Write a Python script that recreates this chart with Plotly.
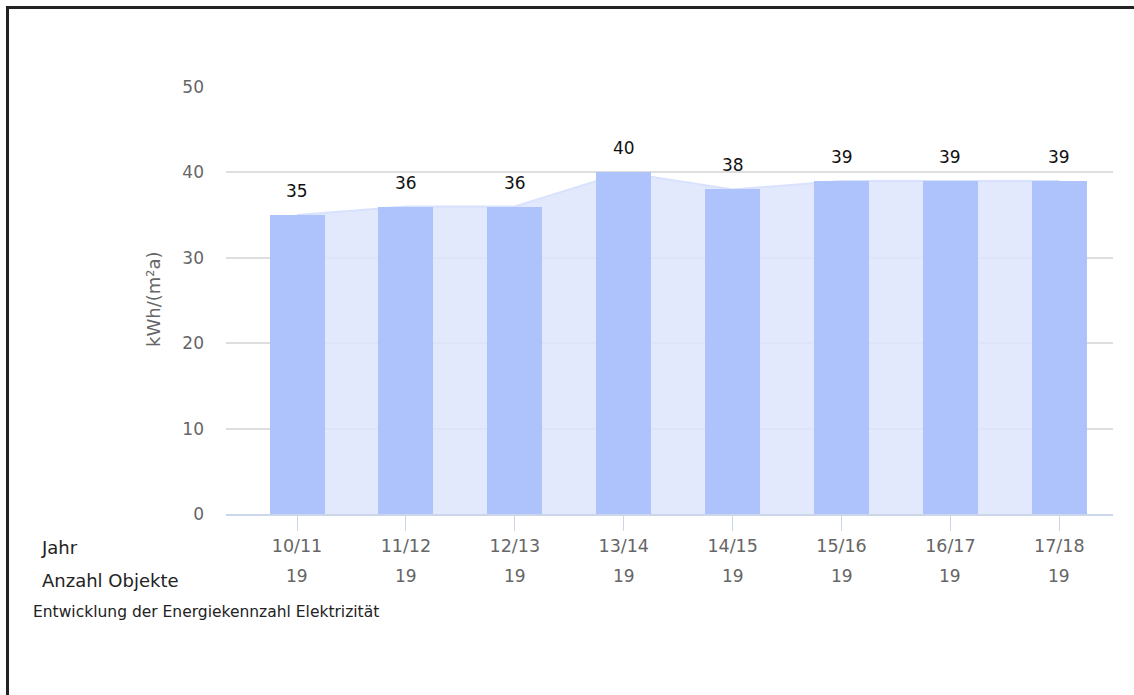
import plotly.graph_objects as go

years = ["10/11", "11/12", "12/13", "13/14", "14/15", "15/16", "16/17", "17/18"]
values = [35, 36, 36, 40, 38, 39, 39, 39]
objects = [19, 19, 19, 19, 19, 19, 19, 19]
y_ticks = [0, 10, 20, 30, 40, 50]

W, H = 1134, 695
L, R, T, B = 226, 21, 87, 181
PW, PH = W - L - R, H - T - B

def xp(px):
    return (px - L) / PW

def yp(py):
    return (H - B - py) / PH

xs = list(range(len(years)))
xr = [-0.652, 7.493]
FONT = "DejaVu Sans"

fig = go.Figure()
fig.add_trace(go.Scatter(
    x=xs, y=values, mode="lines", fill="tozeroy",
    line=dict(color="rgba(215,224,253,0.95)", width=2),
    fillcolor="rgba(222,229,253,0.85)",
    hoverinfo="skip", showlegend=False, xaxis="x", yaxis="y",
))
fig.add_trace(go.Bar(
    x=xs, y=values, width=0.505, marker=dict(color="#aec3fc", line=dict(width=0)),
    showlegend=False, xaxis="x2", yaxis="y2",
))

ann = []
for x, v in zip(xs, values):
    ann.append(dict(x=x, y=v, xref="x2", yref="y2", text=str(v), showarrow=False,
                    yshift=24, yanchor="middle", font=dict(family=FONT, size=17, color="#111")))
for x, n in zip(xs, objects):
    ann.append(dict(x=x, y=0, xref="x", yref="paper", text=str(n), showarrow=False,
                    yshift=-62, yanchor="middle", font=dict(family=FONT, size=17, color="#666")))
ann.append(dict(x=xp(39), y=yp(547), xref="paper", yref="paper", text="Jahr", showarrow=False,
                xanchor="left", yanchor="middle", font=dict(family=FONT, size=18, color="#222")))
ann.append(dict(x=xp(40), y=yp(580), xref="paper", yref="paper", text="Anzahl Objekte", showarrow=False,
                xanchor="left", yanchor="middle", font=dict(family=FONT, size=18, color="#222")))
ann.append(dict(x=xp(31), y=yp(612), xref="paper", yref="paper",
                text="Entwicklung der Energiekennzahl Elektrizität", showarrow=False,
                xanchor="left", yanchor="middle", font=dict(family=FONT, size=15.5, color="#222")))
ann.append(dict(x=xp(153), y=yp(299), xref="paper", yref="paper", text="kWh/(m²a)", showarrow=False,
                textangle=-90, xanchor="center", yanchor="middle",
                font=dict(family=FONT, size=18, color="#666")))

shapes = [
    dict(type="line", xref="paper", yref="paper", x0=xp(6), x1=xp(1140), y0=yp(7.5), y1=yp(7.5),
         line=dict(color="#222", width=3)),
    dict(type="line", xref="paper", yref="paper", x0=xp(7.5), x1=xp(7.5), y0=yp(6), y1=yp(700),
         line=dict(color="#222", width=3)),
]

fig.update_layout(
    width=W, height=H, margin=dict(l=L, r=R, t=T, b=B, pad=0),
    paper_bgcolor="white", plot_bgcolor="white",
    xaxis=dict(range=xr, tickmode="array", tickvals=xs, ticktext=years,
               ticks="outside", ticklen=15, tickcolor="#ccd6eb", tickwidth=1,
               showline=True, linecolor="#ccd6eb", linewidth=2, showgrid=False, zeroline=False,
               tickfont=dict(family=FONT, size=17.5, color="#666"), fixedrange=True),
    yaxis=dict(range=[0, 50], tickvals=y_ticks, showgrid=True, gridcolor="#dedede", gridwidth=1.5,
               zeroline=False, ticks="", ticklabelstandoff=21,
               tickfont=dict(family=FONT, size=17, color="#666"), fixedrange=True),
    xaxis2=dict(range=xr, overlaying="x", visible=False, fixedrange=True),
    yaxis2=dict(range=[0, 50], overlaying="y", visible=False, fixedrange=True),
    annotations=ann, shapes=shapes, bargap=0,
)

fig.write_html("out.html")
